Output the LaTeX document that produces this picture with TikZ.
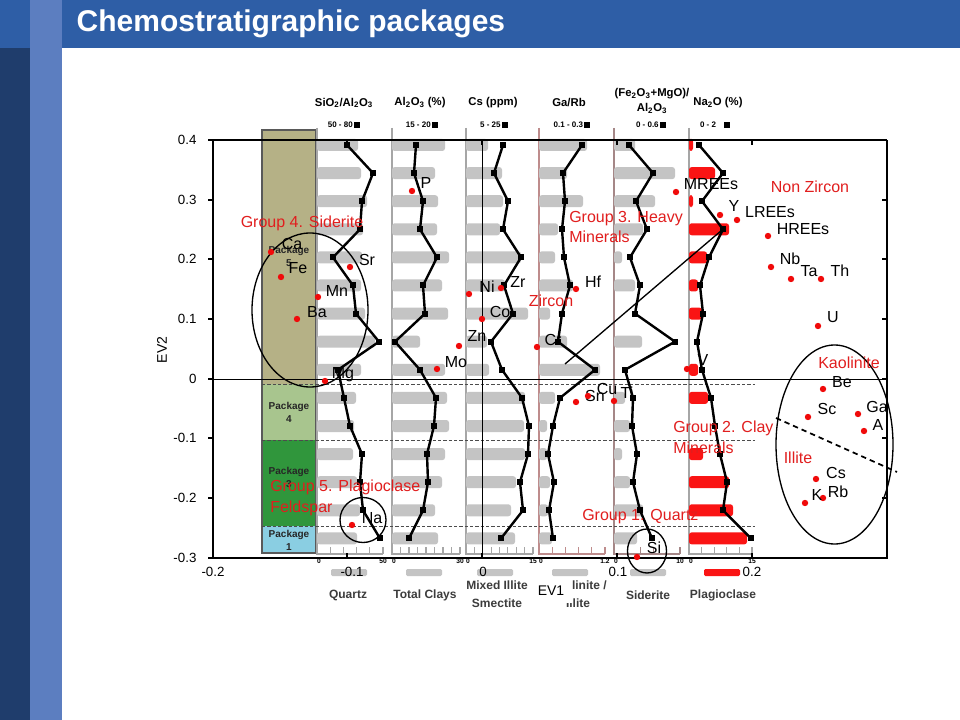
\documentclass[tikz,border=0pt]{standalone}
\usepackage{fontspec}
\setmainfont{Liberation Sans}
\usetikzlibrary{positioning}

\definecolor{titleblue}{RGB}{46,94,166}
\definecolor{stripeblue}{RGB}{92,126,192}
\definecolor{navy}{RGB}{31,61,108}
\definecolor{pkgfive}{RGB}{181,177,134}
\definecolor{pkgfour}{RGB}{168,197,142}
\definecolor{pkgthree}{RGB}{48,150,60}
\definecolor{pkgone}{RGB}{138,206,226}
\definecolor{bargray}{RGB}{196,196,196}
\definecolor{barred}{RGB}{250,20,20}
\definecolor{ptred}{RGB}{240,10,10}
\definecolor{grpred}{RGB}{225,30,30}
\definecolor{rulebrown}{RGB}{190,140,140}
\definecolor{legtext}{RGB}{60,60,60}

\newcommand{\chemcol}[4]{%
  \foreach \b/\m [count=\r from 0] in {#4} {
    \pgfmathsetmacro\yy{145+28.1*\r}
    \ifdim\b pt>\dimexpr#2pt+2pt\relax
      \fill[#3, rounded corners=2pt] (#2,\yy-6) rectangle (\b,\yy+6);
    \fi
    \coordinate (#1\r) at (\m,\yy);
  }
  \draw[trend] (#10) \foreach \i in {1,...,14} {-- (#1\i)};
  \foreach \i in {0,...,14} \fill (#1\i) +(-3,-3) rectangle +(3,3);
}

\begin{document}
\begin{tikzpicture}
  [x=0.75pt, y=-0.75pt,
   elem/.style={font=\fontsize{12}{14}\selectfont, inner sep=0pt},
   grp/.style={font=\fontsize{12}{15.5}\selectfont, text=grpred, inner sep=0pt, align=left},
   ptdot/.style={circle, fill=ptred, inner sep=0pt, minimum size=4.8pt},
   hdr/.style={font=\bfseries\fontsize{8.5}{11}\selectfont, inner sep=0pt, align=center},
   rng/.style={font=\bfseries\fontsize{6}{7}\selectfont, inner sep=0pt},
   leg/.style={font=\bfseries\fontsize{9}{13.5}\selectfont, text=legtext, inner sep=0pt, align=center},
   pkg/.style={font=\bfseries\fontsize{7.5}{9.75}\selectfont, text=black!85, inner sep=0pt, align=center},
   axlabel/.style={font=\fontsize{10}{12}\selectfont, inner sep=0pt},
   scalelbl/.style={font=\bfseries\fontsize{5}{6}\selectfont, inner sep=0pt},
   trend/.style={line width=1.8pt, line join=round},
   ring/.style={line width=1pt}
  ]
  \useasboundingbox (0,0) rectangle (960,720);
  \fill[white] (0,0) rectangle (960,720);

  \fill[titleblue] (0,0) rectangle (960,48);
  \fill[navy] (0,48) rectangle (30,720);
  \fill[stripeblue] (30,0) rectangle (62,720);
  \node[anchor=base west, text=white, font=\bfseries\fontsize{22.5}{26}\selectfont] (title) at (72,32) {Chemostratigraphic packages};

  % packages
  \fill[pkgfive] (262,130) rectangle (316,384);
  \fill[pkgfour] (262,384) rectangle (316,440);
  \fill[pkgthree] (262,440) rectangle (316,526);
  \fill[pkgone] (262,526) rectangle (316,553);
  \draw[gray!70!black, line width=0.8pt] (262,130) rectangle (316,553);
  \node[pkg] (pk5) at (289,256) {Package\\5};
  \node[pkg] (pk4) at (289,412) {Package\\4};
  \node[pkg] (pk3) at (289,477) {Package\\3};
  \node[pkg] (pk1) at (289,540) {Package\\1};

  \foreach \xa/\xb/\n/\c/\e in {317/383/5/gray!70/50, 392/460/8/gray!70/30, 466/533/8/gray!70/15,
      539/605/5/rulebrown/1.2, 614/680/5/rulebrown!60!gray/10, 689/752/5/gray!70/15} {
    \draw[\c, line width=0.8pt] (\xa,128) -- (\xa,554) -- (\xb,554);
    \foreach \k in {1,...,\n} \draw[\c, line width=0.8pt] ({\xa+(\xb-\xa)*\k/\n},547) -- ++(0,7);
    \node[scalelbl] at (\xa+2,561) {0};
    \node[scalelbl] at (\xb,561) {\e};
  }

  \begin{scope}[line width=0.7pt, gray!60!black, dash pattern=on 2.5pt off 1.5pt]
  \draw (262,384) -- (755,384);
  \draw (262,440) -- (755,440);
  \draw (262,526) -- (755,526);
  \end{scope}

  \chemcol{csi}{317}{bargray}{358/347, 361/373, 367/362, 363/360, 362/333, 361/353, 365/356, 375/379, 361/338, 356/344, 354/350, 353/362, 357/360, 360/363, 357/380}
  \chemcol{cal}{392}{bargray}{445/416, 435/414, 438/423, 437/420, 449/437, 442/423, 448/425, 420/395, 445/420, 447/436, 449/434, 445/427, 442/428, 435/423, 438/409}
  \chemcol{ccs}{466}{bargray}{488/503, 502/494, 503/508, 500/503, 521/521, 505/504, 528/513, 487/491, 489/502, 525/522, 524/529, 525/528, 516/520, 511/523, 515/501}
  \chemcol{cga}{539}{bargray}{587/582, 567/563, 583/565, 558/562, 555/564, 573/570, 550/562, 567/558, 600/595, 555/560, 547/553, 547/548, 550/554, 548/549, 552/553}
  \chemcol{cfe}{614}{bargray}{635/629, 675/653, 655/636, 643/647, 622/630, 635/640, 615/635, 642/675, 614/625, 625/633, 630/632, 622/637, 630/633, 643/640, 637/652}
  \chemcol{cna}{689}{barred}{693/699, 715/723, 693/702, 729/723, 707/709, 698/700, 702/703, 689/697, 698/702, 708/711, 689/715, 703/720, 729/727, 733/723, 747/751}

  \node[hdr] (hSi) at (344,103) {SiO\textsubscript{2}/Al\textsubscript{2}O\textsubscript{3}};
  \node[hdr] (hAl) at (420,103) {Al\textsubscript{2}O\textsubscript{3} (\%)};
  \node[hdr] (hCs) at (493,103) {Cs (ppm)};
  \node[hdr] (hGa) at (569,103) {Ga/Rb};
  \node[hdr] (hFe) at (652,101) {(Fe\textsubscript{2}O\textsubscript{3}+MgO)/\\Al\textsubscript{2}O\textsubscript{3}};
  \node[hdr] (hNa) at (718,103) {Na\textsubscript{2}O (\%)};
  \node[rng] (rSi) at (344,125) {50 - 80\,\rule{4.5pt}{4.5pt}};
  \node[rng] (rAl) at (422,125) {15 - 20\,\rule{4.5pt}{4.5pt}};
  \node[rng] (rCs) at (494,125) {5 - 25\,\rule{4.5pt}{4.5pt}};
  \node[rng] (rGa) at (572,125) {0.1 - 0.3\,\rule{4.5pt}{4.5pt}};
  \node[rng] (rFe) at (651,125) {0 - 0.6\,\rule{4.5pt}{4.5pt}};
  \node[rng] (rNa) at (715,125) {0 - 2\quad\rule{4.5pt}{4.5pt}};

  \foreach \x/\c in {349/bargray, 424/bargray, 495/bargray, 570/bargray, 648/bargray, 722/barred}
    \fill[\c, rounded corners=1pt] (\x-18,569) rectangle (\x+18,576);
  \node[leg] (lQuartz) at (348,595) {Quartz};
  \node[leg] (lClays) at (425,595) {Total Clays};
  \node[leg] (lMixed) at (497,594) {Mixed Illite\\Smectite};
  \node[leg] (lKaol) at (578,594) {Kaolinite /\\Illite};
  \node[leg] (lSid) at (648,595) {Siderite};
  \node[leg] (lPlag) at (723,595) {Plagioclase};

  % EV1 / EV2 axes
  \begin{scope}[line width=0.8pt]
  \draw (213,140) -- (213,558) -- (887,558) -- (887,140);
  \draw[line width=0.6pt] (213,379) -- (887,379);
  \draw[line width=0.6pt] (482,140) -- (482,558);
  \foreach \yv/\t [count=\i] in {140/0.4, 200/0.3, 259/0.2, 319/0.1, 379/0, 438/-0.1, 498/-0.2, 558/-0.3} {
    \draw (208,\yv) -- (213,\yv);
    \draw (887,\yv) -- (882,\yv);
    \node[axlabel, anchor=east] (yl\i) at (197,\yv) {\t};
  }
  \foreach \xv in {347,482,617,752} {
    \draw (\xv,558) -- (\xv,553);
    \draw (\xv,140) -- (\xv,145);
  }
  \end{scope}
  \draw[line width=1.8pt] (213,140) -- (887,140);
  \foreach \xv/\t [count=\i] in {213/-0.2, 352/-0.1, 483/0, 618/0.1, 752/0.2}
    \node[axlabel] (xl\i) at (\xv,572) {\t};
  \node[axlabel, font=\fontsize{10.5}{12}\selectfont, rotate=90] (ev2) at (162,350) {EV2};
  \node[axlabel, font=\fontsize{10.5}{12}\selectfont, fill=white, minimum width=31pt, minimum height=18pt] (ev1) at (551,591) {EV1};

  \begin{scope}[ring]
  \draw (310,310) ellipse [x radius=58, y radius=77];
  \draw (363,520) ellipse [x radius=23, y radius=22.5];
  \draw (647,551) ellipse [x radius=19.5, y radius=22];
  \draw (834.5,444.5) ellipse [x radius=58.5, y radius=99.5];
  \end{scope}
  \coordinate (lineS) at (565,364);
  \coordinate (lineE) at (722,230);
  \draw[line width=1pt] (lineS) -- (lineE);
  \coordinate (divA) at (776,418);
  \coordinate (divB) at (897,472);
  \draw[line width=1.3pt, dash pattern=on 4pt off 3pt] (divA) -- (divB);

  \foreach \n/\dx/\dy/\lx/\ly in {P/412/191/426/183, Ca/271/252/292/244, Fe/281/277/298/268,
      Sr/350/267/367/260, Mn/318/297/337/291, Ba/297/319/317/312, Ni/469/294/487/287,
      Zr/501/288/518/282, Co/482/319/500/312, Zn/459/346/477/336, Mo/437/369/456/362,
      Cr/537/347/553/340, Hf/576/289/593/282, Mg/325/381/343/375, MREEs/676/192/711/184,
      Y/720/215/734/206, LREEs/737/220/770/212, HREEs/768/236/803/229, Nb/771/267/790/259,
      Ta/791/279/809/271, Th/821/279/840/271, U/818/326/833/317, V/687/369/703/360,
      Sn/576/402/595/396, Cu/588/396/607/389, Ti/614/401/627/393, Be/823/389/842/382,
      Sc/808/417/827/409, Ga/858/414/877/407, A/864/431/878/425, Cs/816/479/836/473,
      Rb/823/498/838/492, K/805/503/817/495, Na/352/525/372/518, Si/637/557/654/548} {
    \node[elem] (l\n) at (\lx,\ly) {\n};
    \node[ptdot] (d\n) at (\dx,\dy) {};
  }

  \node[grp] (gSid) at (302,223) {Group 4. Siderite};
  \node[grp, anchor=west] (gHeavy) at (569,227) {Group 3. Heavy\\Minerals};
  \node[grp] (gZircon) at (551,301) {Zircon};
  \node[grp] (gNonZ) at (810,187) {Non Zircon};
  \node[grp] (gKao) at (849,363) {Kaolinite};
  \node[grp, anchor=west] (gClay) at (673,437) {Group 2. Clay\\Minerals};
  \node[grp] (gIll) at (798,458) {Illite};
  \node[grp, anchor=west] (gPlag) at (270,498) {Group 5. Plagioclase\\Feldspar};
  \node[grp, anchor=west] (gQtz) at (582,517) {Group 1. Quartz};
\end{tikzpicture}
\end{document}
